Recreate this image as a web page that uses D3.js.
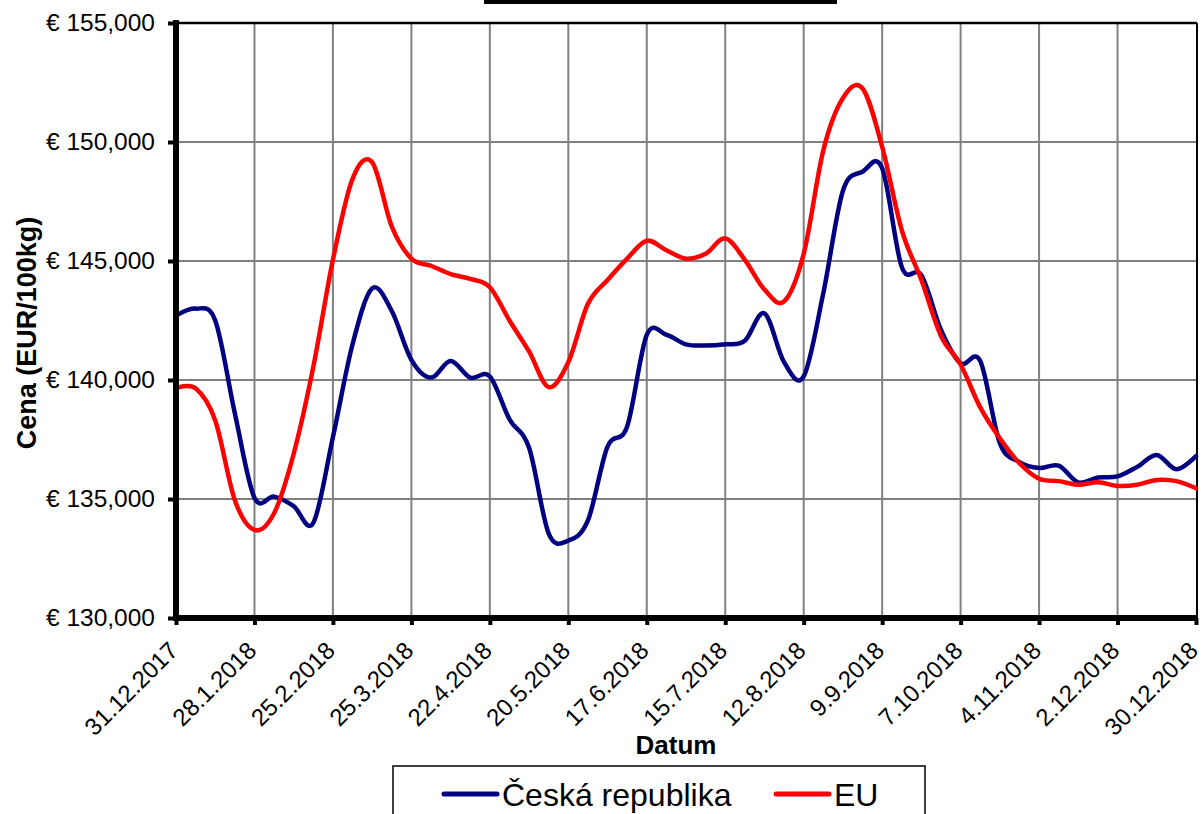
<!DOCTYPE html>
<html>
<head>
<meta charset="utf-8">
<script src="https://cdn.jsdelivr.net/npm/d3@7"></script>
<style>
  body { margin: 0; background: #fff; }
  svg { display: block; font-family: Arial, "Liberation Sans", sans-serif; }
</style>
</head>
<body>
<svg id="chart" width="1204" height="814"></svg>
<script>
// ---- Data ----
const tickLabels = ["31.12.2017","28.1.2018","25.2.2018","25.3.2018","22.4.2018","20.5.2018","17.6.2018","15.7.2018","12.8.2018","9.9.2018","7.10.2018","4.11.2018","2.12.2018","30.12.2018"];
const seriesNames = ["Česká republika", "EU"];
const czValues = [142700,143000,142500,138600,135050,135100,134700,134000,137600,141500,
                  143850,142900,140850,140100,140800,140100,140150,138350,137150,133550,
                  133250,134100,137200,138050,141900,141900,141500,141450,141500,141650,
                  142800,140750,140150,143650,147950,148750,148900,144750,144400,142100,
                  140700,140800,137350,136550,136300,136400,135700,135900,135950,136350,
                  136850,136250,136800];
const euValues = [139650,139650,138300,134950,133700,134400,136900,140550,145050,148450,
                  149150,146450,145100,144800,144450,144250,143900,142500,141200,139700,
                  140750,143200,144200,145100,145850,145450,145100,145300,145950,145050,
                  143800,143300,145300,149650,151850,152250,149800,146300,144200,141850,
                  140650,138850,137550,136500,135850,135750,135600,135700,135550,135600,
                  135800,135750,135450];
const yTicks = [130000,135000,140000,145000,150000,155000];
const colors = ["#000080", "#ff0000"];

// ---- Layout ----
const svg = d3.select("#chart");
const L = 176, R = 1197, T = 23, B = 618;
const nWeeks = czValues.length - 1;
const x = d3.scaleLinear().domain([0, nWeeks]).range([L, R - 1]);
const y = d3.scaleLinear().domain([130000, 155000]).range([B, T]);
const tickIdx = tickLabels.map((d, i) => i * 4);

// title box remnant
svg.append("rect").attr("x", 484).attr("y", 0).attr("width", 353).attr("height", 4).attr("fill", "#000");

// gridlines
svg.append("g").selectAll("line.h").data(yTicks.slice(1, -1)).join("line")
  .attr("x1", L).attr("x2", R).attr("y1", d => y(d)).attr("y2", d => y(d))
  .attr("stroke", "#808080").attr("stroke-width", 2);
svg.append("g").selectAll("line.v").data(tickIdx.slice(1, -1)).join("line")
  .attr("x1", d => x(d)).attr("x2", d => x(d)).attr("y1", T).attr("y2", B)
  .attr("stroke", "#808080").attr("stroke-width", 2);

// border top/right
svg.append("line").attr("x1", L).attr("x2", R).attr("y1", T).attr("y2", T).attr("stroke", "#000").attr("stroke-width", 2.5);
svg.append("line").attr("x1", R).attr("x2", R).attr("y1", T).attr("y2", B).attr("stroke", "#000").attr("stroke-width", 2);

// series lines
const line = d3.line().x((d, i) => x(i)).y(d => y(d)).curve(d3.curveCardinal.tension(0));
[czValues, euValues].forEach((vals, k) => {
  svg.append("path").datum(vals).attr("d", line)
    .attr("fill", "none").attr("stroke", colors[k]).attr("stroke-width", 4.5)
    .attr("stroke-linejoin", "round").attr("stroke-linecap", "round");
});

// Y axis
const yAxis = d3.axisLeft(y).tickValues(yTicks).tickSize(8).tickPadding(13)
  .tickFormat(d => "€ " + d3.format(",.3f")(d / 1000).replace(".", ","));
const gy = svg.append("g").attr("transform", `translate(${L},0)`).call(yAxis);
gy.select(".domain").attr("stroke", "#000").attr("stroke-width", 6).attr("d", `M0,${T - 3}V${B + 3}`);
gy.selectAll(".tick line").attr("stroke", "#000").attr("stroke-width", 4);
gy.selectAll(".tick text").attr("font-size", 24.5).attr("fill", "#000").attr("font-family", "Arial, 'Liberation Sans', sans-serif");

// X axis
const xAxis = d3.axisBottom(x).tickValues(tickIdx).tickSize(7).tickFormat((d, i) => tickLabels[i]);
const gx = svg.append("g").attr("transform", `translate(0,${B})`).call(xAxis);
gx.select(".domain").attr("stroke", "#000").attr("stroke-width", 6).attr("d", `M${L - 3},0H${R + 1}`);
gx.selectAll(".tick line").attr("stroke", "#000").attr("stroke-width", 4);
gx.selectAll(".tick text")
  .attr("font-size", 24).attr("fill", "#000").attr("font-family", "Arial, 'Liberation Sans', sans-serif")
  .attr("text-anchor", "end").attr("dy", null).attr("y", null)
  .attr("transform", "translate(3,34) rotate(-45)");

// Axis titles
svg.append("text").attr("transform", "translate(36,333) rotate(-90)")
  .attr("text-anchor", "middle").attr("font-size", 27).attr("font-weight", "bold").text("Cena (EUR/100kg)");
svg.append("text").attr("x", 676).attr("y", 754)
  .attr("text-anchor", "middle").attr("font-size", 26).attr("font-weight", "bold").text("Datum");

// Legend
svg.append("rect").attr("x", 393).attr("y", 766).attr("width", 532).attr("height", 60)
  .attr("fill", "#fff").attr("stroke", "#000").attr("stroke-width", 1.5);
const legendX = [444, 776];
seriesNames.forEach((name, k) => {
  const g = svg.append("g").attr("transform", `translate(${legendX[k]},794)`);
  g.append("line").attr("x1", 0).attr("x2", 53).attr("y1", 0).attr("y2", 0)
    .attr("stroke", colors[k]).attr("stroke-width", 5).attr("stroke-linecap", "round");
  g.append("text").attr("x", 58).attr("y", 12).attr("font-size", 32).attr("fill", "#000").text(name);
});
</script>
</body>
</html>
